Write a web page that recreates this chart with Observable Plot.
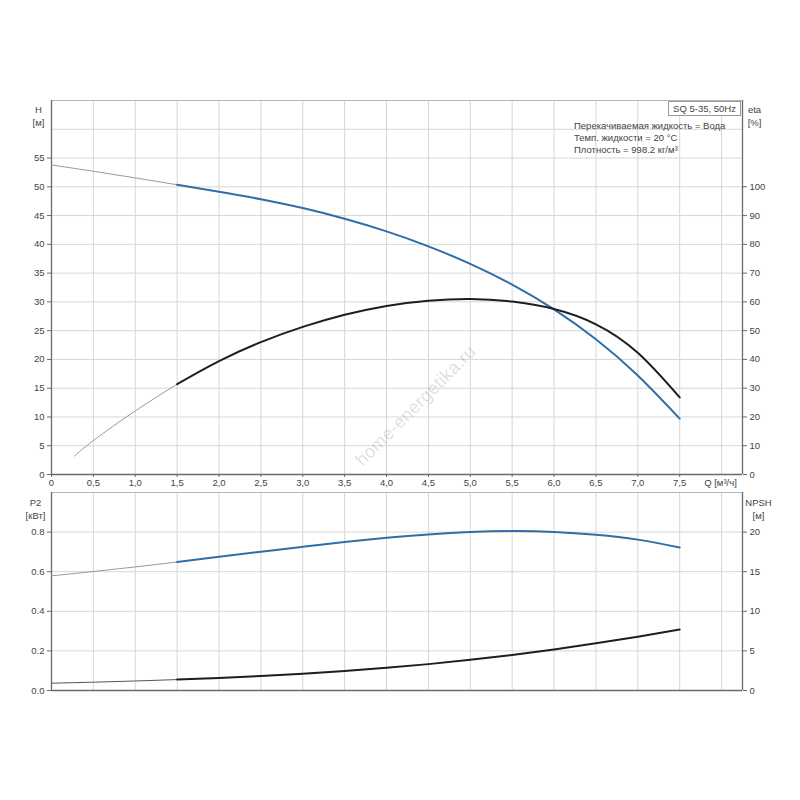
<!DOCTYPE html>
<html><head><meta charset="utf-8">
<script src="https://cdn.jsdelivr.net/npm/d3@7"></script>
<script src="https://cdn.jsdelivr.net/npm/@observablehq/plot@0.6"></script>
<style>
body{margin:0;background:#fff;font-family:"Liberation Sans",Arial,sans-serif;}
#wrap{position:relative;width:800px;height:800px;overflow:hidden;background:#fff;}
#top,#bot{position:absolute;left:0;}
#top{top:0}
#bot{top:490px}
#model{position:absolute;left:668px;top:101px;width:71px;height:13px;border:1px solid #999;font-size:9.5px;color:#444;text-align:center;line-height:13px;background:#fff;}
#info{position:absolute;left:574px;top:120px;font-size:9.5px;color:#444;line-height:12px;white-space:nowrap;}
#wm{position:absolute;left:416px;top:406px;transform:translate(-50%,-50%) rotate(-45deg);font-size:18px;color:rgba(120,120,120,0.24);white-space:nowrap;letter-spacing:0.3px;}
</style></head>
<body><div id="wrap"><div id="top"></div><div id="bot"></div>
<div id="model"></div><div id="info"></div><div id="wm"></div></div>
<script>
// ---- data ----
const qH   = [0,0.5,1.0,1.5,2.0,2.5,3.0,3.5,4.0,4.5,5.0,5.5,6.0,6.5,7.0,7.5];
const H    = [53.8,52.7,51.55,50.35,49.15,47.85,46.3,44.45,42.25,39.65,36.6,33.0,28.7,23.5,17.2,9.7];
const qEta = [0.275,0.5,1.0,1.5,2.0,2.5,3.0,3.5,4.0,4.5,5.0,5.5,6.0,6.5,7.0,7.5];
const eta  = [6.4,11.8,22.1,31.4,39.4,46.0,51.3,55.5,58.6,60.4,61.0,60.1,57.5,52.2,42.3,26.8];
const qP   = [0,0.5,1.0,1.5,2.0,2.5,3.0,3.5,4.0,4.5,5.0,5.5,6.0,6.5,7.0,7.5];
const P2   = [0.579,0.601,0.624,0.649,0.675,0.701,0.726,0.750,0.771,0.788,0.800,0.805,0.801,0.787,0.762,0.722];
const NPSH = [0.92,1.05,1.20,1.38,1.59,1.84,2.13,2.47,2.87,3.33,3.87,4.49,5.19,5.96,6.80,7.70];

const xTickLabels = ["0","0,5","1,0","1,5","2,0","2,5","3,0","3,5","4,0","4,5","5,0","5,5","6,0","6,5","7,0","7,5"];
const xTickVals = [0,0.5,1.0,1.5,2.0,2.5,3.0,3.5,4.0,4.5,5.0,5.5,6.0,6.5,7.0,7.5];
const xGridVals = [0.5,1.0,1.5,2.0,2.5,3.0,3.5,4.0,4.5,5.0,5.5,6.0,6.5,7.0,7.5,8.0];
const hTicks   = [0,5,10,15,20,25,30,35,40,45,50,55];
const hGrid    = [5,10,15,20,25,30,35,40,45,50,55,60];
const etaTicks = [0,10,20,30,40,50,60,70,80,90,100];
const p2Ticks  = [0,0.2,0.4,0.6,0.8];
const npshTicks= [0,5,10,15,20];

const modelText = "SQ 5-35, 50Hz";
const infoLines = ["Перекачиваемая жидкость = Вода","Темп. жидкости = 20 °C","Плотность = 998.2 кг/м³"];
const watermark = "home-energetika.ru";

// ---- tables ----
const hRows = qH.map((q,i)=>({q, v:H[i]}));
const eRows = qEta.map((q,i)=>({q, v:eta[i]/2}));     // eta% on H scale (100% = 50 m)
const pRows = qP.map((q,i)=>({q, v:P2[i]}));
const nRows = qP.map((q,i)=>({q, v:NPSH[i]/25}));     // NPSH on P2 scale (20 m = 0.8 kW)
const split = 1.5;
const thin = rows => rows.filter(d=>d.q<=split);
const thick = rows => rows.filter(d=>d.q>=split);

const BLUE = "#2f6ea6", BLACK = "#1e1e1e", GRAYL = "#9a9a9a", GRID = "#d6d6d6", AX = "#6a6a6a";
const font = "Liberation Sans, Arial, sans-serif";
const xDom = [0, 8.25];
const curve = "natural";

const topPlot = Plot.plot({
  width: 800, height: 490,
  marginTop: 100, marginBottom: 16, marginLeft: 51, marginRight: 58,
  x: {domain: xDom, axis: null},
  y: {domain: [0, 65], axis: null},
  style: {fontFamily: font, fontSize: "9.5px", color: "#444", background: "transparent", overflow: "visible"},
  marks: [
    Plot.ruleX(xGridVals, {stroke: GRID}),
    Plot.ruleY(hGrid, {stroke: GRID}),
    Plot.ruleY([65], {stroke: "#b5b5b5"}),
    Plot.ruleX([0], {stroke: AX, strokeWidth: 1.3}),
    Plot.ruleX([8.25], {stroke: AX, strokeWidth: 1.3}),
    Plot.ruleY([0], {stroke: AX, strokeWidth: 1.3}),
    Plot.axisY({ticks: hTicks, anchor: "left", tickSize: 4, tickPadding: 3, stroke: AX, fill: "#444", tickFormat: d => String(d), label: null}),
    Plot.axisY({ticks: etaTicks.map(v => v/2), anchor: "right", tickSize: 4, tickPadding: 3, stroke: AX, fill: "#444", tickFormat: d => String(Math.round(d*2)), label: null}),
    Plot.axisX({ticks: xTickVals, anchor: "bottom", tickSize: 3, tickPadding: 2, stroke: AX, fill: "#444", tickFormat: (d,i) => xTickLabels[i], label: null}),
    Plot.line(thin(hRows), {x: "q", y: "v", stroke: GRAYL, strokeWidth: 1, curve}),
    Plot.line(thick(hRows), {x: "q", y: "v", stroke: BLUE, strokeWidth: 2, curve}),
    Plot.line(thin(eRows), {x: "q", y: "v", stroke: GRAYL, strokeWidth: 1, curve}),
    Plot.line(thick(eRows), {x: "q", y: "v", stroke: BLACK, strokeWidth: 2, curve}),
    Plot.text(["H"], {frameAnchor: "top-left", dx: -13, dy: 6, fill: "#444", textAnchor: "middle"}),
    Plot.text(["[м]"], {frameAnchor: "top-left", dx: -13, dy: 19, fill: "#444", textAnchor: "middle"}),
    Plot.text(["eta"], {frameAnchor: "top-right", dx: 12, dy: 6, fill: "#444", textAnchor: "middle"}),
    Plot.text(["[%]"], {frameAnchor: "top-right", dx: 12, dy: 19, fill: "#444", textAnchor: "middle"}),
    Plot.text(["Q [м³/ч]"], {frameAnchor: "bottom-right", dx: -22, dy: 11, fill: "#444", textAnchor: "middle"})
  ]
});
document.getElementById("top").append(topPlot);

const botPlot = Plot.plot({
  width: 800, height: 220,
  marginTop: 2, marginBottom: 20, marginLeft: 51, marginRight: 58,
  x: {domain: xDom, axis: null},
  y: {domain: [0, 1], axis: null},
  style: {fontFamily: font, fontSize: "9.5px", color: "#444", background: "transparent", overflow: "visible"},
  marks: [
    Plot.ruleX(xGridVals, {stroke: GRID}),
    Plot.ruleY([0.2,0.4,0.6,0.8], {stroke: GRID}),
    Plot.ruleY([1], {stroke: "#b5b5b5"}),
    Plot.ruleX([0], {stroke: AX, strokeWidth: 1.3}),
    Plot.ruleX([8.25], {stroke: AX, strokeWidth: 1.3}),
    Plot.ruleY([0], {stroke: AX, strokeWidth: 1.3}),
    Plot.axisY({ticks: p2Ticks, anchor: "left", tickSize: 4, tickPadding: 3, stroke: AX, fill: "#444", tickFormat: d => d.toFixed(1), label: null}),
    Plot.axisY({ticks: npshTicks.map(v => v/25), anchor: "right", tickSize: 4, tickPadding: 3, stroke: AX, fill: "#444", tickFormat: d => String(Math.round(d*25)), label: null}),
    Plot.line(thin(pRows), {x: "q", y: "v", stroke: GRAYL, strokeWidth: 1, curve}),
    Plot.line(thick(pRows), {x: "q", y: "v", stroke: BLUE, strokeWidth: 2, curve}),
    Plot.line(thin(nRows), {x: "q", y: "v", stroke: "#555", strokeWidth: 1, curve}),
    Plot.line(thick(nRows), {x: "q", y: "v", stroke: BLACK, strokeWidth: 2, curve}),
    Plot.text(["P2"], {frameAnchor: "top-left", dx: -16, dy: 7, fill: "#444", textAnchor: "middle"}),
    Plot.text(["[кВт]"], {frameAnchor: "top-left", dx: -16, dy: 20, fill: "#444", textAnchor: "middle"}),
    Plot.text(["NPSH"], {frameAnchor: "top-right", dx: 16, dy: 7, fill: "#444", textAnchor: "middle"}),
    Plot.text(["[м]"], {frameAnchor: "top-right", dx: 16, dy: 20, fill: "#444", textAnchor: "middle"})
  ]
});
document.getElementById("bot").append(botPlot);

document.getElementById("model").textContent = modelText;
document.getElementById("info").innerHTML = infoLines.map(s => `<div>${s}</div>`).join("");
document.getElementById("wm").textContent = watermark;
</script></body></html>
